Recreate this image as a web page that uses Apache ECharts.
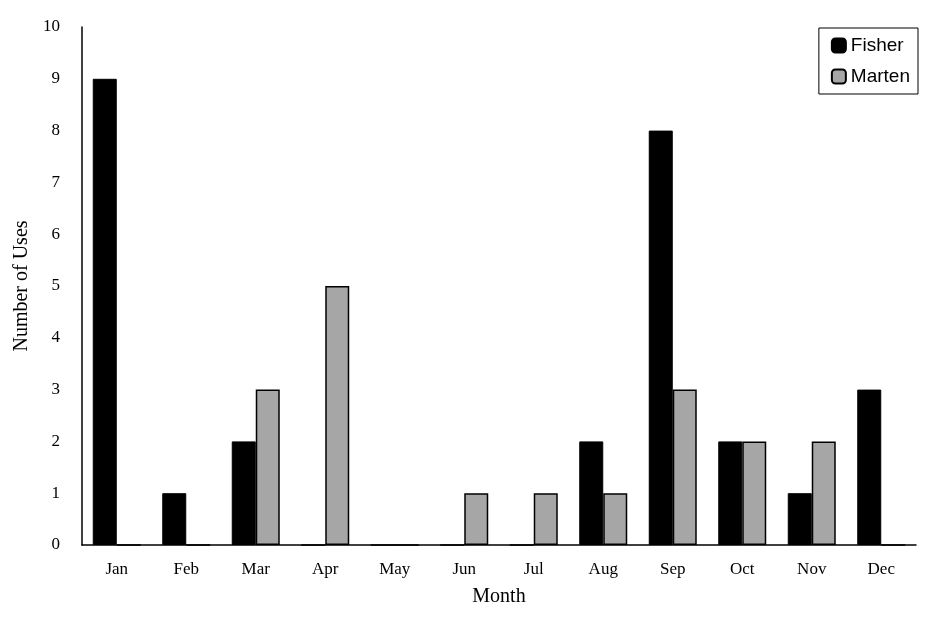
<!DOCTYPE html><html><head><meta charset="utf-8"><script src="https://cdn.jsdelivr.net/npm/echarts@6/dist/echarts.min.js"></script></head><body style="margin:0"><div id="c" style="width:936px;height:636px"></div><script>
const months=['Jan','Feb','Mar','Apr','May','Jun','Jul','Aug','Sep','Oct','Nov','Dec'];
const fisher=[9,1,2,0,0,0,0,2,8,2,1,3];
const marten=[0,0,3,5,0,1,1,1,3,2,2,0];
const yTicks=[0,1,2,3,4,5,6,7,8,9,10];
const ch=echarts.init(document.getElementById('c'));
const tf='Liberation Serif';
ch.setOption({animation:false,
grid:{left:82,right:20,top:27,bottom:91},
legend:{right:18,top:28,orient:'vertical',itemWidth:14,itemHeight:14,itemGap:12,padding:[8,8,8,12],borderColor:'#000',borderWidth:1,textStyle:{fontFamily:'Liberation Sans',fontSize:19,color:'#000'},data:['Fisher','Marten']},
xAxis:{type:'category',data:months,name:'Month',nameLocation:'middle',nameGap:42,nameTextStyle:{fontFamily:tf,fontSize:20,color:'#000'},axisTick:{show:false},axisLine:{lineStyle:{color:'#000',width:1.5}},axisLabel:{fontFamily:tf,fontSize:17,color:'#000',margin:16}},
yAxis:{type:'value',min:0,max:10,interval:1,name:'Number of Uses',nameLocation:'middle',nameGap:50,nameTextStyle:{fontFamily:tf,fontSize:20,color:'#000'},splitLine:{show:false},axisLine:{show:true,lineStyle:{color:'#000',width:1.5}},axisTick:{show:false},axisLabel:{fontFamily:tf,fontSize:17,color:'#000',margin:22,formatter:v=>yTicks.includes(v)?String(v):''}},
series:[
{name:'Fisher',type:'bar',data:fisher,barWidth:24,barGap:'0%',itemStyle:{color:'#000',borderColor:'#000',borderWidth:1}},
{name:'Marten',type:'bar',data:marten,barWidth:24,itemStyle:{color:'#a6a6a6',borderColor:'#000',borderWidth:1.5}}
]});
</script></body></html>
